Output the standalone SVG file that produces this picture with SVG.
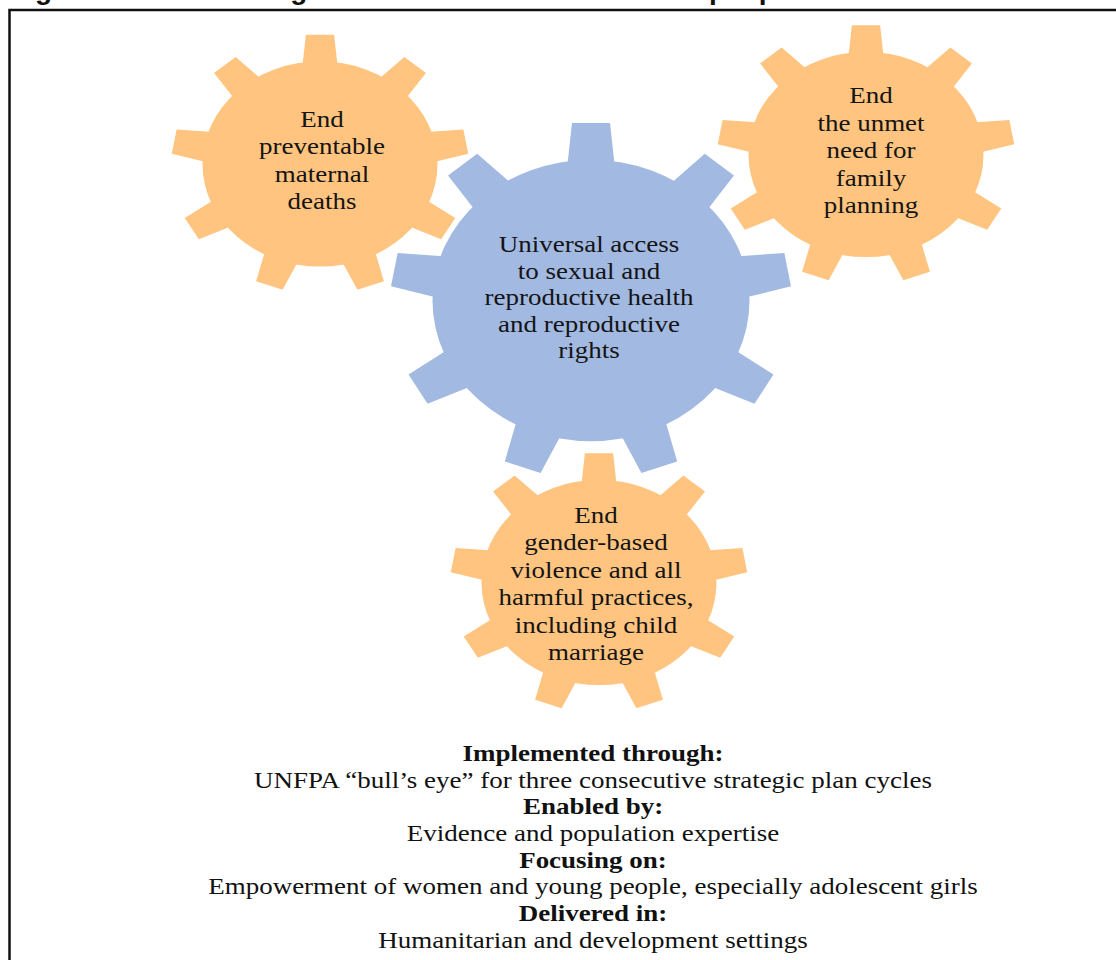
<svg xmlns="http://www.w3.org/2000/svg" xmlns:xlink="http://www.w3.org/1999/xlink" width="1116" height="960" viewBox="0 0 1116 960">
  <style>
    .g-text { font-family: "Liberation Serif", "Times New Roman", serif; font-size: 24px; fill: #141414; text-anchor: middle; }
    .f-text { font-family: "Liberation Serif", "Times New Roman", serif; font-size: 24px; fill: #111; text-anchor: middle; }
    .bold { font-weight: bold; }
    .orange { fill: #FFC47F; }
    .blue { fill: #A2B9E2; }
    .header { font-family: "Liberation Sans", Arial, sans-serif; font-size: 28px; font-weight: bold; fill: #111; }
  </style>
  <defs>
    <polygon id="tooth" points="-15,-95 -12,-126 12,-126 15,-95"/>
    <g id="gear">
      <circle cx="0" cy="0" r="100"/>
      <use xlink:href="#tooth"/>
      <use xlink:href="#tooth" transform="rotate(40)"/>
      <use xlink:href="#tooth" transform="rotate(80)"/>
      <use xlink:href="#tooth" transform="rotate(120)"/>
      <use xlink:href="#tooth" transform="rotate(160)"/>
      <use xlink:href="#tooth" transform="rotate(200)"/>
      <use xlink:href="#tooth" transform="rotate(240)"/>
      <use xlink:href="#tooth" transform="rotate(280)"/>
      <use xlink:href="#tooth" transform="rotate(320)"/>
    </g>
  </defs>

  <rect width="1116" height="960" fill="#ffffff"/>

  <g id="header">
    <text class="header" x="10" y="-1.5">Figure 1:<tspan x="211">Strategic framework: a universal and people-centred transformation</tspan></text>
  </g>

  <g id="frame">
    <rect x="9.5" y="10" width="1200" height="1000" fill="none" stroke="#111" stroke-width="2.5"/>
  </g>

  <g id="gear-universal-access">
    <use xlink:href="#gear" class="blue" transform="translate(591,300.5) scale(1.585,1.408)"/>
    <g transform="translate(589,0) scale(1.125,1)">
      <text class="g-text" x="0" y="252.5">Universal access</text>
      <text class="g-text" x="0" y="279">to sexual and</text>
      <text class="g-text" x="0" y="305.5">reproductive health</text>
      <text class="g-text" x="0" y="332">and reproductive</text>
      <text class="g-text" x="0" y="358.5">rights</text>
    </g>
  </g>

  <g id="gear-maternal-deaths">
    <use xlink:href="#gear" class="orange" transform="translate(320,164) scale(1.175,1.026)"/>
    <g transform="translate(322,0) scale(1.125,1)">
      <text class="g-text" x="0" y="127">End</text>
      <text class="g-text" x="0" y="154.5">preventable</text>
      <text class="g-text" x="0" y="182">maternal</text>
      <text class="g-text" x="0" y="209.5">deaths</text>
    </g>
  </g>

  <g id="gear-family-planning">
    <use xlink:href="#gear" class="orange" transform="translate(866,154.5) scale(1.175,1.026)"/>
    <g transform="translate(871,0) scale(1.125,1)">
      <text class="g-text" x="0" y="103.5">End</text>
      <text class="g-text" x="0" y="131">the unmet</text>
      <text class="g-text" x="0" y="158.5">need for</text>
      <text class="g-text" x="0" y="186">family</text>
      <text class="g-text" x="0" y="213.5">planning</text>
    </g>
  </g>

  <g id="gear-gender-based-violence">
    <use xlink:href="#gear" class="orange" transform="translate(599,582.5) scale(1.175,1.026)"/>
    <g transform="translate(596,0) scale(1.125,1)">
      <text class="g-text" x="0" y="523">End</text>
      <text class="g-text" x="0" y="550.5">gender-based</text>
      <text class="g-text" x="0" y="578">violence and all</text>
      <text class="g-text" x="0" y="605.5">harmful practices,</text>
      <text class="g-text" x="0" y="633">including child</text>
      <text class="g-text" x="0" y="660.5">marriage</text>
    </g>
  </g>

  <g id="footer-text" transform="translate(593,0) scale(1.125,1)">
    <text class="f-text bold" x="0" y="761">Implemented through:</text>
    <text class="f-text" x="0" y="788">UNFPA “bull’s eye” for three consecutive strategic plan cycles</text>
    <text class="f-text bold" x="0" y="814.5">Enabled by:</text>
    <text class="f-text" x="0" y="841">Evidence and population expertise</text>
    <text class="f-text bold" x="0" y="868">Focusing on:</text>
    <text class="f-text" x="0" y="894.5">Empowerment of women and young people, especially adolescent girls</text>
    <text class="f-text bold" x="0" y="921">Delivered in:</text>
    <text class="f-text" x="0" y="948">Humanitarian and development settings</text>
  </g>
</svg>
